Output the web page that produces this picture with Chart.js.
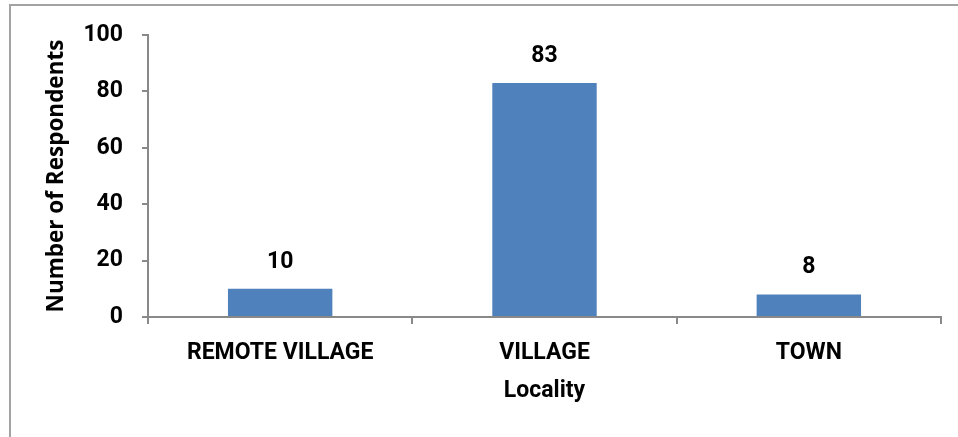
<!DOCTYPE html>
<html>
<head>
<meta charset="utf-8">
<script src="https://cdn.jsdelivr.net/npm/chart.js@4/dist/chart.umd.min.js"></script>
<style>
  html, body { margin: 0; padding: 0; background: #fff; }
  #wrap { position: relative; width: 958px; height: 437px; }
</style>
</head>
<body>
<div id="wrap"><canvas id="localityChart" width="958" height="437"></canvas></div>
<script>
const localities = ['REMOTE VILLAGE', 'VILLAGE', 'TOWN'];
const respondents = [10, 83, 8];
const yTicks = [0, 20, 40, 60, 80, 100];

const axisGray = '#898989';
const labelFont = { family: 'Roboto, Arial, sans-serif', size: 23, weight: 'bold' };
const yTitleFont = { family: "'Open Sans', 'Noto Sans', sans-serif", size: 22.5, weight: 'bold' };

// outer frame around the whole chart
const frame = {
    id: 'frame',
    beforeDraw(chart) {
        const c = chart.ctx;
        c.save();
        c.strokeStyle = '#a3a3a3';
        c.lineWidth = 2;
        c.strokeRect(10, 5, 980, 460);
        c.restore();
    }
};

// value printed above each bar
const barValues = {
    id: 'barValues',
    afterDatasetsDraw(chart) {
        const c = chart.ctx;
        const meta = chart.getDatasetMeta(0);
        c.save();
        c.font = 'bold 23px Roboto, Arial, sans-serif';
        c.fillStyle = '#000';
        c.textAlign = 'center';
        c.textBaseline = 'middle';
        meta.data.forEach((bar, i) => {
            c.fillText(String(respondents[i]), bar.x, bar.y - 27);
        });
        c.restore();
    }
};

new Chart(document.getElementById('localityChart').getContext('2d'), {
    type: 'bar',
    data: {
        labels: localities,
        datasets: [{
            data: respondents,
            backgroundColor: '#4F81BD',
            borderWidth: 0,
            barPercentage: 0.395,
            categoryPercentage: 1
        }]
    },
    options: {
        responsive: false,
        animation: false,
        layout: { padding: { top: 35, right: 17, left: 0, bottom: 0 } },
        plugins: {
            legend: { display: false },
            tooltip: { enabled: false }
        },
        scales: {
            x: {
                afterFit(scale) { scale.height = 120; },
                border: { color: axisGray, width: 2 },
                grid: {
                    offset: true,
                    drawOnChartArea: false,
                    drawTicks: true,
                    tickLength: 7,
                    color: axisGray,
                    lineWidth: 2
                },
                ticks: { color: '#000', font: labelFont, padding: 15 },
                title: {
                    display: true,
                    text: 'Locality',
                    color: '#000',
                    font: labelFont,
                    padding: { top: 0, bottom: 32 }
                }
            },
            y: {
                min: 0,
                max: 100,
                afterFit(scale) { scale.width = 148; },
                afterBuildTicks(scale) { scale.ticks = yTicks.map(v => ({ value: v })); },
                border: { color: axisGray, width: 2 },
                grid: {
                    drawOnChartArea: false,
                    drawTicks: true,
                    tickLength: 6,
                    color: axisGray,
                    lineWidth: 2
                },
                ticks: { color: '#000', font: labelFont, padding: 19 },
                title: {
                    display: true,
                    text: 'Number of Respondents',
                    color: '#000',
                    font: yTitleFont,
                    padding: { top: 43, bottom: 0 }
                }
            }
        }
    },
    plugins: [frame, barValues]
});
</script>
</body>
</html>
